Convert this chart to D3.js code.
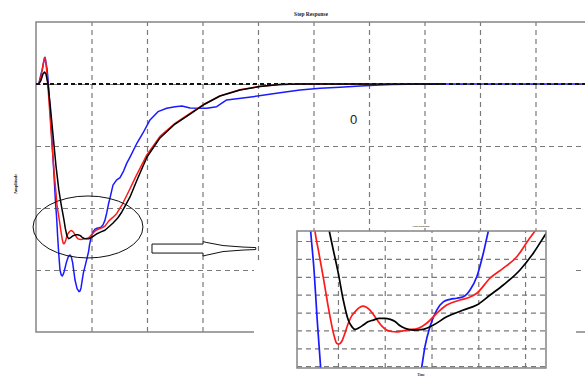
<!DOCTYPE html>
<html>
<head>
<meta charset="utf-8">
<script src="https://cdn.jsdelivr.net/npm/d3@7/dist/d3.min.js"></script>
<style>
  html, body { margin: 0; padding: 0; background: #fff; }
  svg { display: block; }
</style>
</head>
<body>
<script>
// Step responses of three controller tunings: [time, amplitude]
const blueResponse = [
  [0,1],[0.05,1],[0.09,1.08],[0.115,1.12],[0.135,1.17],[0.162,1.215],[0.18,1.17],[0.2,1.12],
  [0.216,1.04],[0.25,0.82],[0.29,0.53],[0.32,0.30],[0.354,0.028],[0.372,-0.081],[0.389,-0.221],
  [0.407,-0.351],[0.432,-0.50],[0.455,-0.54],[0.474,-0.548],[0.49,-0.535],[0.505,-0.516],
  [0.55,-0.435],[0.582,-0.393],[0.613,-0.379],[0.635,-0.392],[0.66,-0.44],[0.703,-0.581],
  [0.74,-0.65],[0.775,-0.675],[0.795,-0.668],[0.811,-0.645],[0.852,-0.527],[0.90,-0.44],
  [0.948,-0.351],[0.965,-0.295],[0.992,-0.239],[1.028,-0.193],[1.063,-0.170],[1.099,-0.163],
  [1.135,-0.160],[1.170,-0.156],[1.206,-0.137],[1.242,-0.100],[1.277,-0.034],[1.304,0.028],
  [1.333,0.08],[1.387,0.185],[1.45,0.225],[1.514,0.245],[1.58,0.30],[1.634,0.36],[1.694,0.411],
  [1.82,0.524],[1.928,0.605],[2.054,0.71],[2.198,0.777],[2.355,0.804],[2.505,0.817],[2.631,0.823],
  [2.775,0.806],[3.076,0.804],[3.256,0.817],[3.436,0.871],[3.91,0.898],[4.396,0.93],[4.757,0.952],
  [5.117,0.965],[5.477,0.973],[5.838,0.984],[6.198,0.992],[6.414,0.996],[7.0,1.0],[10,1.0]
];

const redResponse = [
  [0,1],[0.05,1],[0.09,1.06],[0.125,1.15],[0.15,1.21],[0.17,1.2],[0.19,1.12],[0.216,0.98],
  [0.25,0.76],[0.29,0.50],[0.33,0.27],[0.36,0.12],[0.377,0.028],[0.395,-0.025],[0.421,-0.100],
  [0.448,-0.184],[0.472,-0.249],[0.483,-0.272],[0.493,-0.286],[0.505,-0.288],[0.520,-0.281],
  [0.537,-0.258],[0.555,-0.230],[0.575,-0.208],[0.591,-0.198],[0.612,-0.187],[0.632,-0.182],
  [0.652,-0.185],[0.671,-0.193],[0.690,-0.206],[0.710,-0.221],[0.735,-0.238],[0.760,-0.249],
  [0.787,-0.253],[0.814,-0.254],[0.840,-0.252],[0.867,-0.249],[0.929,-0.244],[0.974,-0.230],
  [1.028,-0.202],[1.081,-0.179],[1.152,-0.165],[1.2,-0.158],[1.242,-0.146],[1.313,-0.104],
  [1.384,-0.076],[1.456,-0.044],[1.518,0.003],[1.553,0.028],[1.65,0.115],[1.8,0.255],[2.0,0.43],
  [2.234,0.578],[2.505,0.683],[2.775,0.763],[3.045,0.841],[3.315,0.904],[3.676,0.953],
  [4.036,0.981],[4.396,0.996],[4.757,1.0],[6.0,1.0]
];

const blackResponse = [
  [0,1],[0.05,1],[0.09,1.03],[0.125,1.08],[0.155,1.097],[0.18,1.08],[0.216,1.0],[0.26,0.81],
  [0.30,0.62],[0.36,0.34],[0.41,0.15],[0.4535,0.028],[0.475,-0.025],[0.5016,-0.090],
  [0.5283,-0.165],[0.555,-0.221],[0.575,-0.240],[0.591,-0.247],[0.61,-0.243],[0.635,-0.235],
  [0.66,-0.226],[0.689,-0.221],[0.72,-0.216],[0.751,-0.216],[0.78,-0.219],[0.805,-0.225],
  [0.83,-0.236],[0.858,-0.244],[0.903,-0.249],[0.956,-0.247],[1.010,-0.235],[1.081,-0.212],
  [1.170,-0.193],[1.242,-0.179],[1.313,-0.151],[1.384,-0.123],[1.473,-0.081],[1.544,-0.034],
  [1.607,0.017],[1.694,0.089],[1.82,0.226],[2.0,0.411],[2.234,0.565],[2.505,0.677],
  [2.775,0.758],[3.045,0.839],[3.315,0.903],[3.676,0.952],[4.036,0.98],[4.396,0.996],
  [4.757,1.0],[7.33,1.0]
];

const setpoint = 1;
const mainTimeTicks = [1,2,3,4,5,6,7,8,9];
const mainAmpTicks = [-0.5, 0, 0.5, 1];
const zoomTimeTicks = [0.5, 0.75, 1.0, 1.25, 1.5];
const zoomAmpTicks = [0, -0.05, -0.1, -0.15, -0.2, -0.25, -0.3, -0.35];

const series = [
  { data: blueResponse, color: "#1a1aff" },
  { data: redResponse, color: "#ff1a1a" },
  { data: blackResponse, color: "#000000" }
];

const W = 585, H = 378;
const svg = d3.select("body").append("svg")
  .attr("width", W).attr("height", H)
  .attr("viewBox", `0 0 ${W} ${H}`);

const defs = svg.append("defs");

// ---------- main axes ----------
const x = d3.scaleLinear().domain([0, 10]).range([36, 591]);
const y = d3.scaleLinear().domain([-1, 1.5]).range([332, 22]);

defs.append("clipPath").attr("id", "clipMain")
  .append("rect").attr("x", 36).attr("y", 22).attr("width", 555).attr("height", 310);

function styleGrid(g) {
  g.select(".domain").remove();
  g.selectAll(".tick text").remove();
  g.selectAll(".tick line")
    .attr("stroke", "#7a7a7a")
    .attr("stroke-width", 1.2)
    .attr("stroke-dasharray", "5,4");
}

svg.append("g")
  .attr("transform", `translate(0,${y.range()[0]})`)
  .call(d3.axisBottom(x).tickValues(mainTimeTicks).tickSize(-310).tickFormat(""))
  .call(styleGrid);

svg.append("g")
  .attr("transform", `translate(${x.range()[0]},0)`)
  .call(d3.axisLeft(y).tickValues(mainAmpTicks).tickSize(-555).tickFormat(""))
  .call(styleGrid);

// frame: top, left, bottom
svg.append("path")
  .attr("d", `M${x(10)},${y(1.5)}H${x(0)}V${y(-1)}H${x(10)}`)
  .attr("fill", "none").attr("stroke", "#858585").attr("stroke-width", 1.5);

const lineMain = d3.line().x(d => x(d[0])).y(d => y(d[1]));
const mainCurves = svg.append("g").attr("clip-path", "url(#clipMain)");
series.forEach(s => {
  mainCurves.append("path")
    .attr("d", lineMain(s.data))
    .attr("fill", "none")
    .attr("stroke", s.color)
    .attr("stroke-width", 1.5)
    .attr("stroke-linejoin", "round");
});

// setpoint reference
svg.append("line")
  .attr("x1", x(0)).attr("x2", x(10))
  .attr("y1", y(setpoint)).attr("y2", y(setpoint))
  .attr("stroke", "#111").attr("stroke-width", 2)
  .attr("stroke-dasharray", "4,3");

// highlight ellipse around the undershoot
svg.append("ellipse")
  .attr("cx", x(0.937)).attr("cy", y(-0.153))
  .attr("rx", x(0.99) - x(0)).attr("ry", y(0) - y(0.25))
  .attr("fill", "none").attr("stroke", "#111").attr("stroke-width", 1);

// hollow arrow pointing at the zoom panel
(function () {
  const ay = y(-0.327);
  const p = (t, dy) => [x(t), ay + dy];
  const pts = [
    p(2.09, -4.5), p(3.01, -4.5), p(3.01, -7), p(3.08, -6), p(3.37, -3), p(3.73, -1.5),
    p(3.96, -1), p(3.96, 1), p(3.73, 1.5), p(3.37, 3), p(3.08, 6.5), p(3.01, 7.5),
    p(3.01, 4.5), p(2.09, 4.5)
  ];
  svg.append("path")
    .attr("d", "M" + pts.map(q => q.join(",")).join("L") + "Z")
    .attr("fill", "#fff").attr("stroke", "#111").attr("stroke-width", 1);
})();

svg.append("text")
  .attr("x", 353.5).attr("y", 124)
  .attr("text-anchor", "middle")
  .attr("font-family", "Liberation Sans, Arial, sans-serif")
  .attr("font-size", 13).attr("fill", "#222")
  .text("0");

svg.append("text")
  .attr("x", 311).attr("y", 16)
  .attr("text-anchor", "middle")
  .attr("font-family", "Liberation Serif, serif")
  .attr("font-weight", "bold")
  .attr("font-size", 5.5).attr("fill", "#222")
  .text("Step Response");

svg.append("text")
  .attr("transform", "translate(17,184) rotate(-90)")
  .attr("text-anchor", "middle")
  .attr("font-family", "Liberation Serif, serif")
  .attr("font-weight", "bold")
  .attr("font-size", 4.5).attr("fill", "#222")
  .text("Amplitude");

// ---------- zoom panel ----------
svg.append("rect")
  .attr("x", 254).attr("y", 264).attr("width", 322).attr("height", 114)
  .attr("fill", "#fff");

const xz = d3.scaleLinear().domain([0.281, 1.612]).range([297, 546]);
const yz = d3.scaleLinear().domain([-0.355, 0.028]).range([368, 231]);

svg.append("rect")
  .attr("x", 297).attr("y", 231).attr("width", 249).attr("height", 137)
  .attr("fill", "#fff");

defs.append("clipPath").attr("id", "clipZoom")
  .append("rect").attr("x", 297).attr("y", 231).attr("width", 249).attr("height", 137);

svg.append("g")
  .attr("transform", `translate(0,${yz.range()[0]})`)
  .call(d3.axisBottom(xz).tickValues(zoomTimeTicks).tickSize(-137).tickFormat(""))
  .call(styleGrid);

svg.append("g")
  .attr("transform", `translate(${xz.range()[0]},0)`)
  .call(d3.axisLeft(yz).tickValues(zoomAmpTicks).tickSize(-249).tickFormat(""))
  .call(styleGrid);

const lineZoom = d3.line().x(d => xz(d[0])).y(d => yz(d[1])).curve(d3.curveMonotoneX);
const zoomCurves = svg.append("g").attr("clip-path", "url(#clipZoom)");
series.forEach(s => {
  zoomCurves.append("path")
    .attr("d", lineZoom(s.data))
    .attr("fill", "none")
    .attr("stroke", s.color)
    .attr("stroke-width", 1.7)
    .attr("stroke-linejoin", "round");
});

svg.append("rect")
  .attr("x", 297).attr("y", 231).attr("width", 249).attr("height", 137)
  .attr("fill", "none").attr("stroke", "#858585").attr("stroke-width", 1.5);

svg.append("text")
  .attr("x", 421).attr("y", 227)
  .attr("text-anchor", "middle")
  .attr("font-family", "Liberation Serif, serif")
  .attr("font-weight", "bold")
  .attr("font-size", 2.8).attr("fill", "#444")
  .text("Step Response");

svg.append("text")
  .attr("x", 421).attr("y", 376)
  .attr("text-anchor", "middle")
  .attr("font-family", "Liberation Serif, serif")
  .attr("font-weight", "bold")
  .attr("font-size", 3.5).attr("fill", "#333")
  .text("Time");
</script>
</body>
</html>
